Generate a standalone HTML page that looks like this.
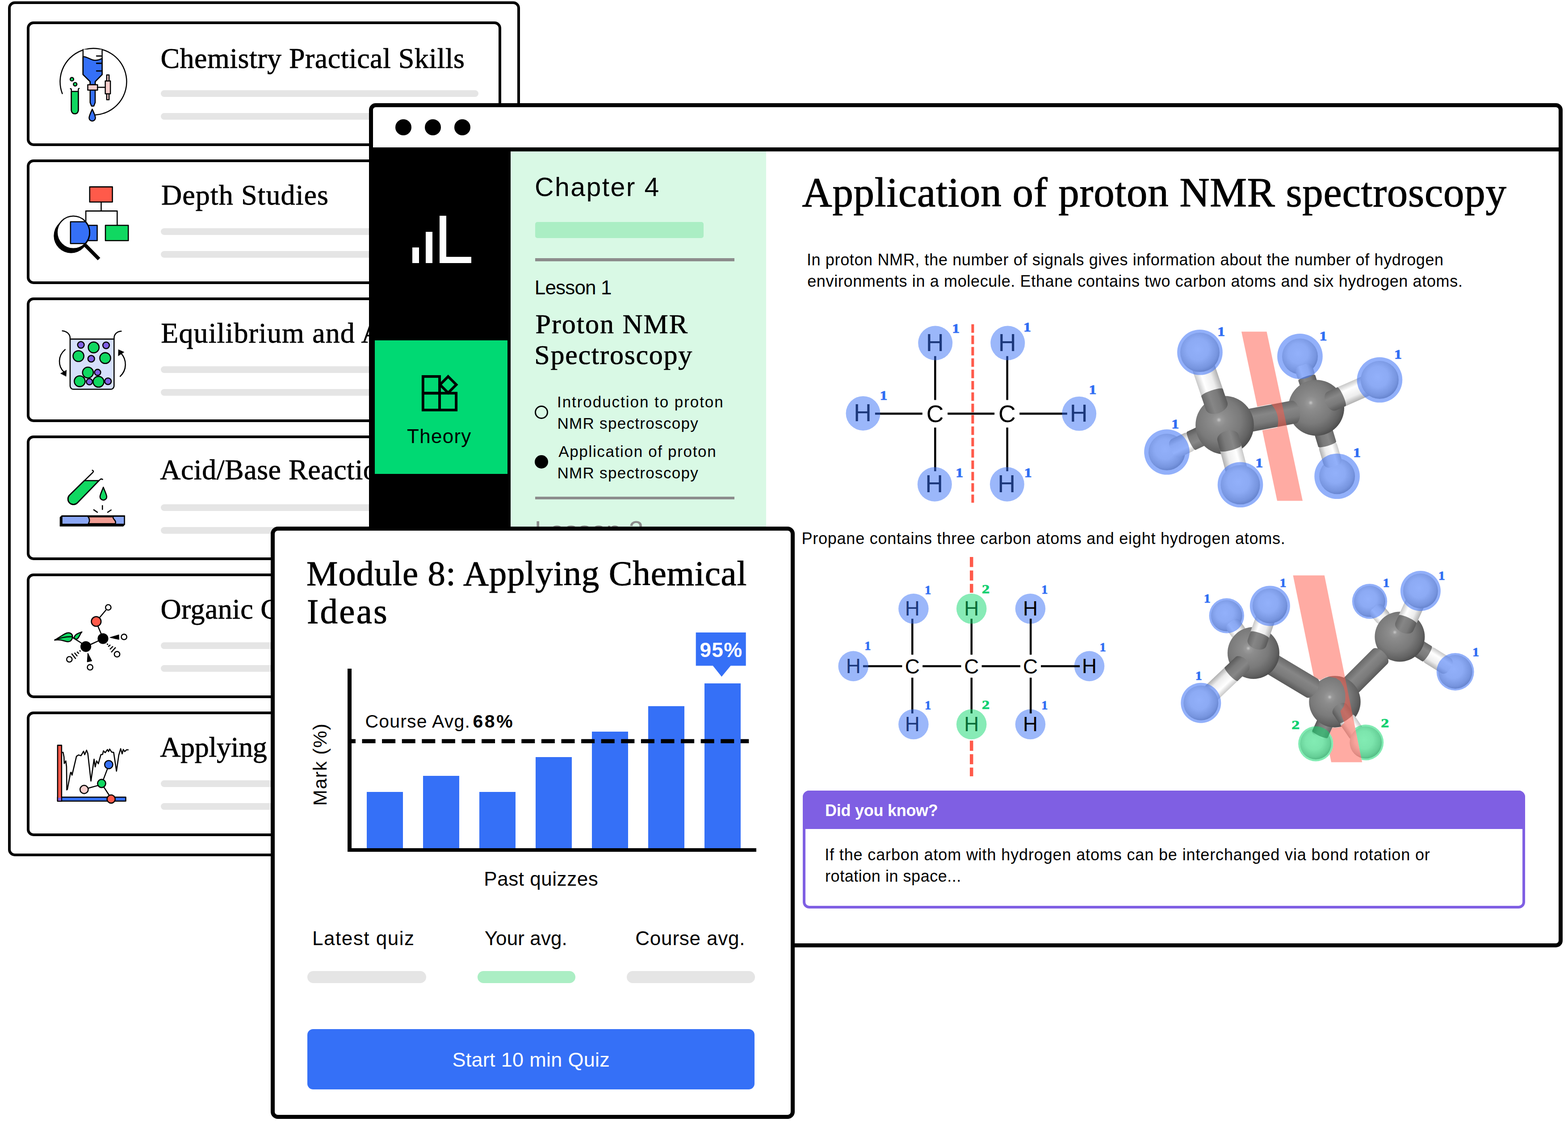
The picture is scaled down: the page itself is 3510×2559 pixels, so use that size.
<!DOCTYPE html>
<html lang="en"><head><meta charset="utf-8"><title>Chemistry modules</title>
<style>
*{box-sizing:border-box}
html,body{margin:0;padding:0;background:#fff}
body{width:3510px;height:2559px;position:relative;font-family:"Liberation Sans",sans-serif;color:#000}
.b,.t,.ic,.fr{position:absolute}
.t{white-space:nowrap;line-height:1;display:block}
.w{margin:0;padding:0;border:0;font:inherit;list-style:none;display:block}
.ss{font-family:"Liberation Sans",sans-serif}
.sf{font-family:"Liberation Serif",serif;-webkit-text-stroke:0.012em currentColor}
.fr{border:solid #000;background:#fff}
.lb{font-family:"Liberation Serif",serif;font-weight:700}
.at{font-family:"Liberation Sans",sans-serif}
svg{overflow:visible}
</style></head>
<body>
<section aria-label="Modules">
<div class="fr" style="left:18px;top:3px;width:1146px;height:1914px;border-width:6px;border-radius:15px"></div>
<div class="fr" style="left:60px;top:47.8px;width:1062px;height:279px;border-width:6px;border-radius:15px"></div>
<h3 class="w"><span class="t sf" style="left:359.4px;top:98.9px;font-size:64px;letter-spacing:0.49px;">Chemistry Practical Skills</span></h3>
<div class="b" style="left:360.0px;top:201.5px;width:711.0px;height:15.5px;background:#e5e5e5;border-radius:8px;"></div>
<div class="b" style="left:360.0px;top:252.7px;width:711.0px;height:15.5px;background:#e5e5e5;border-radius:8px;"></div>
<svg class="ic" style="left:0px;top:0px" width="400" height="290" viewBox="0 0 2266 1643" >
<g fill="none" stroke="#000" stroke-width="14" stroke-linecap="round" stroke-linejoin="round">
<path d="M790 1187 A422 422 0 1 1 1210 1457"/>
<path d="M1053 628 V945 L1143 1035 V1075 H1207 V1035 L1295 945 V628" fill="#fff"/>
<path d="M1053 718 C1110 718 1150 765 1205 765 C1245 765 1275 752 1295 742 V945 L1207 1035 V1075 H1143 V1035 L1053 945 Z" fill="#3570f7"/>
<path d="M1225 710 H1288 M1225 803 H1288 M1225 900 H1288" stroke-width="16"/>
<path d="M1143 1143 V1300 L1160 1345 H1190 L1207 1300 V1143 Z" fill="#3570f7"/>
<rect x="1113" y="1075" width="124" height="68" fill="#f7cfcd"/>
<path d="M1237 1107 H1335"/>
<rect x="1353" y="950" width="30" height="315" fill="#f7cfcd"/>
<rect x="1335" y="1027" width="65" height="163" fill="#f7cfcd"/>
<path d="M1170 1385 C1150 1430 1130 1470 1130 1495 A40 40 0 0 0 1210 1495 C1210 1470 1190 1430 1170 1385 Z" fill="#3570f7"/>
<path d="M905 1160 V1400 A44 44 0 0 0 993 1400 V1160 Z" fill="#10d861"/>
<path d="M893 1124 Q905 1124 905 1140 V1400 A44 44 0 0 0 993 1400 V1140 Q993 1124 1003 1122"/>
<circle cx="912" cy="1005" r="22" fill="#10d861"/>
<circle cx="953" cy="1068" r="22" fill="#10d861"/>
</g></svg>
<div class="fr" style="left:60px;top:356.8px;width:1062px;height:279px;border-width:6px;border-radius:15px"></div>
<h3 class="w"><span class="t sf" style="left:360.9px;top:404.9px;font-size:64px;letter-spacing:1.10px;">Depth Studies</span></h3>
<div class="b" style="left:360.0px;top:510.5px;width:711.0px;height:15.5px;background:#e5e5e5;border-radius:8px;"></div>
<div class="b" style="left:360.0px;top:561.7px;width:711.0px;height:15.5px;background:#e5e5e5;border-radius:8px;"></div>
<svg class="ic" style="left:100px;top:390px" width="220" height="210" viewBox="0 0 1731 1652" >
<g stroke="#000" stroke-width="20" stroke-linejoin="round" stroke-linecap="round" fill="none">
<path d="M995 500 V648 M725 830 V648 H1277 V895"/>
<rect x="793" y="223" width="400" height="267" fill="#ff5a4a"/>
<rect x="1070" y="900" width="403" height="270" fill="#10d861"/>
<rect x="700" y="900" width="225" height="270" fill="#3570f7"/>
<circle cx="465" cy="1085" r="305" fill="#000" stroke="none"/>
<circle cx="505" cy="1025" r="287" fill="#fff" stroke="none"/>
<path d="M455 838 H720 A287 287 0 0 1 720 1222 H455 Z" fill="#3570f7"/>
<circle cx="505" cy="1025" r="287"/>
<path d="M715 1250 L957 1495" stroke-width="62" stroke-linecap="butt"/>
</g></svg>
<div class="fr" style="left:60px;top:665.8px;width:1062px;height:279px;border-width:6px;border-radius:15px"></div>
<h3 class="w"><span class="t sf" style="left:360.2px;top:713.7px;font-size:64px;letter-spacing:1.14px;">Equilibrium and Acid Reactions</span></h3>
<div class="b" style="left:360.0px;top:819.5px;width:711.0px;height:15.5px;background:#e5e5e5;border-radius:8px;"></div>
<div class="b" style="left:360.0px;top:870.7px;width:711.0px;height:15.5px;background:#e5e5e5;border-radius:8px;"></div>
<svg class="ic" style="left:100px;top:700px" width="220" height="210" viewBox="0 0 1731 1652" >
<g stroke="#000" stroke-width="20" stroke-linejoin="round" stroke-linecap="round" fill="none">
<path d="M448 465 H1222 V1290 A60 60 0 0 1 1162 1350 H508 A60 60 0 0 1 448 1290 Z" fill="#d6e0fb"/>
<path d="M312 320 C390 325 448 380 448 450 V465 M1222 465 V450 C1222 385 1270 330 1348 326"/>
<circle cx="638" cy="567" r="58" fill="#7f5fe3"/><circle cx="863" cy="612" r="95" fill="#10d861"/><circle cx="1082" cy="575" r="58" fill="#7f5fe3"/><circle cx="595" cy="765" r="95" fill="#10d861"/><circle cx="820" cy="812" r="58" fill="#7f5fe3"/><circle cx="1066" cy="800" r="95" fill="#10d861"/><circle cx="932" cy="1052" r="54" fill="#7f5fe3"/><circle cx="788" cy="1217" r="54" fill="#7f5fe3"/><circle cx="617" cy="1208" r="95" fill="#10d861"/><circle cx="948" cy="1217" r="95" fill="#10d861"/><circle cx="762" cy="1055" r="95" fill="#10d861"/><circle cx="1115" cy="1208" r="58" fill="#7f5fe3"/>
<path d="M360 650 C230 760 230 940 340 1045"/>
<path d="M1330 1122 C1450 1010 1450 830 1345 715"/>
<path d="M280 1070 L385 1010 L378 1122 Z" fill="#000" stroke-width="4"/>
<path d="M1300 650 L1400 695 L1297 762 Z" fill="#000" stroke-width="4"/>
</g></svg>
<div class="fr" style="left:60px;top:974.8px;width:1062px;height:279px;border-width:6px;border-radius:15px"></div>
<h3 class="w"><span class="t sf" style="left:358.2px;top:1020.4px;font-size:64px;letter-spacing:0.53px;">Acid/Base Reactions</span></h3>
<div class="b" style="left:360.0px;top:1128.5px;width:711.0px;height:15.5px;background:#e5e5e5;border-radius:8px;"></div>
<div class="b" style="left:360.0px;top:1179.7px;width:711.0px;height:15.5px;background:#e5e5e5;border-radius:8px;"></div>
<svg class="ic" style="left:100px;top:1020px" width="220" height="210" viewBox="0 0 1731 1652" >
<g stroke="#000" stroke-width="20" stroke-linejoin="round" stroke-linecap="round" fill="none">
<path d="M699 440 H957 L572 836 A97 97 0 0 1 435 699 Z" fill="#10d861"/>
<path d="M840 258 Q870 272 850 295 L435 699 A97 97 0 0 0 572 836 L965 432 Q990 400 1020 420"/>
<path d="M1033 558 C1010 620 975 690 975 725 A59 59 0 0 0 1093 725 C1093 690 1058 620 1033 558 Z" fill="#10d861"/>
<path d="M1017 882 V948 M865 955 L928 998 M1170 958 L1110 998"/>
<path d="M270 1085 L300 1055 H1413 V1215 L1385 1245 H270 Z" fill="#000" stroke-width="6"/>
<rect x="313" y="1078" width="1082" height="122" fill="#8ba7f5" stroke="none"/>
<path d="M765 1078 Q810 1135 770 1200 H1245 Q1260 1160 1222 1125 Q1200 1100 1205 1078 Z" fill="#f29d93"/>
</g></svg>
<div class="fr" style="left:60px;top:1283.8px;width:1062px;height:279px;border-width:6px;border-radius:15px"></div>
<h3 class="w"><span class="t sf" style="left:359.5px;top:1332.2px;font-size:64px;letter-spacing:0.36px;">Organic Chemistry</span></h3>
<div class="b" style="left:360.0px;top:1437.5px;width:711.0px;height:15.5px;background:#e5e5e5;border-radius:8px;"></div>
<div class="b" style="left:360.0px;top:1488.7px;width:711.0px;height:15.5px;background:#e5e5e5;border-radius:8px;"></div>
<svg class="ic" style="left:100px;top:1330px" width="220" height="210" viewBox="0 0 1731 1652" >
<g stroke="#000" stroke-width="20" stroke-linejoin="round" stroke-linecap="round" fill="none">
<path d="M1078 283 L975 405 M940 570 L995 700 M815 885 L945 825 M500 770 L650 865"/>
<circle cx="1120" cy="235" r="48" fill="#fff"/><circle cx="1398" cy="755" r="48" fill="#fff"/><circle cx="1275" cy="1060" r="48" fill="#fff"/><circle cx="435" cy="1150" r="48" fill="#fff"/><circle cx="800" cy="1290" r="48" fill="#fff"/>
<circle cx="908" cy="483" r="85" fill="#ff5a4a"/>
<circle cx="725" cy="925" r="85" fill="#000"/>
<circle cx="1027" cy="785" r="85" fill="#000"/>
<path d="M1150 765 L1305 718 L1308 800 Z" fill="#000" stroke-width="10"/>
<path d="M760 1040 L750 1195 L830 1178 Z" fill="#000" stroke-width="10"/>
<path d="M1102 880 L1110 886 M1125 920 L1150 900 M1155 968 L1198 925 M1178 1020 L1245 945" />
<path d="M620 998 L626 1006 M575 1022 L598 1045 M530 1040 L570 1088 M480 1055 L543 1135"/>
<path d="M178 810 C300 740 360 680 420 682 C470 684 495 720 490 760 C485 810 450 840 410 840 C350 838 300 790 178 810 Z" fill="#10d861"/>
<path d="M178 810 C300 760 400 745 488 752"/>
<path d="M522 770 C520 720 580 690 655 668 C620 700 610 770 570 790 C545 795 525 790 522 770 Z" fill="#10d861"/>
</g></svg>
<div class="fr" style="left:60px;top:1592.8px;width:1062px;height:279px;border-width:6px;border-radius:15px"></div>
<h3 class="w"><span class="t sf" style="left:358.2px;top:1641.0px;font-size:64px;letter-spacing:-0.30px;">Applying Chemical Ideas</span></h3>
<div class="b" style="left:360.0px;top:1746.5px;width:711.0px;height:15.5px;background:#e5e5e5;border-radius:8px;"></div>
<div class="b" style="left:360.0px;top:1797.7px;width:711.0px;height:15.5px;background:#e5e5e5;border-radius:8px;"></div>
<svg class="ic" style="left:100px;top:1640px" width="220" height="210" viewBox="0 0 1731 1652" >
<g stroke="#000" stroke-width="20" stroke-linejoin="round" stroke-linecap="round" fill="none">
<path d="M308 350 L325 350 L340 430 L345 545 L372 500 L385 600 L390 1010 L400 1000 L455 710 L465 700 L482 750 L560 420 L595 395 L640 408 L685 330 L705 390 L738 312 L760 370 L815 855 L870 470 L890 605 L915 500 L945 550 L990 390 L1020 385 L1035 322 L1065 355 L1105 300 L1125 335 L1145 292 L1180 345 L1215 350 L1265 680 L1305 400 L1338 285 L1365 375 L1385 298 L1410 335 L1440 305 L1470 305"/>
<rect x="228" y="1138" width="1200" height="70" fill="#3570f7"/>
<rect x="228" y="225" width="70" height="985" fill="#ff5a4a"/>
<rect x="238" y="1148" width="52" height="52" fill="#7f5fe3" stroke="none"/>
<path d="M1105 640 L1035 825 M770 980 L930 935 M1045 965 L1130 1095"/>
<circle cx="1128" cy="565" r="72" fill="#3570f7"/>
<circle cx="1003" cy="897" r="72" fill="#10d861"/>
<circle cx="695" cy="1003" r="72" fill="#f7cfcd"/>
<circle cx="1170" cy="1172" r="72" fill="#ff5a4a"/>
</g></svg>
</section>
<section aria-label="Lesson">
<div class="fr" style="left:826px;top:231px;width:2672px;height:1890px;border-width:9px;border-radius:15px"></div>
<div class="b" style="left:835.0px;top:330.0px;width:2654.0px;height:9.0px;background:#000;"></div>
<div class="b" style="left:884.8px;top:266.7px;width:36.0px;height:36.0px;background:#000;border-radius:18px;"></div>
<div class="b" style="left:951.0px;top:266.7px;width:36.0px;height:36.0px;background:#000;border-radius:18px;"></div>
<div class="b" style="left:1017.0px;top:266.7px;width:36.0px;height:36.0px;background:#000;border-radius:18px;"></div>
<div class="b" style="left:835.0px;top:339.0px;width:308.0px;height:1773.0px;background:#000;"></div>
<div class="b" style="left:923.0px;top:553.8px;width:14.8px;height:35.5px;background:#fff;"></div>
<div class="b" style="left:953.0px;top:518.9px;width:15.0px;height:70.4px;background:#fff;"></div>
<div class="b" style="left:983.8px;top:483.4px;width:14.8px;height:105.9px;background:#fff;"></div>
<div class="b" style="left:983.8px;top:575.0px;width:71.0px;height:14.3px;background:#fff;"></div>
<div class="b" style="left:839.0px;top:762.0px;width:297.0px;height:299.3px;background:#00d973;"></div>
<svg class="ic" style="left:880px;top:800px" width="220" height="220" viewBox="0 0 1652 1652" >
<g stroke="#000" stroke-width="44" fill="none" stroke-linejoin="miter">
<rect x="502" y="322" width="279" height="281"/>
<rect x="502" y="603" width="558" height="283"/>
<path d="M781 603 V886"/>
<path d="M925 323 L1062 460 L925 597 L788 460 Z"/>
</g></svg>
<span class="t ss" style="left:911.1px;top:955.2px;font-size:44px;letter-spacing:1.25px;">Theory</span>
<div class="b" style="left:1143.0px;top:339.0px;width:571.7px;height:1773.0px;background:#d9f9e5;"></div>
<h2 class="w">
<span class="t ss" style="left:1197.0px;top:390.0px;font-size:59px;letter-spacing:2.41px;">Chapter 4</span>
</h2>
<div class="b" style="left:1197.7px;top:497.0px;width:377.7px;height:35.8px;background:#abeec4;border-radius:5px;"></div>
<div class="b" style="left:1197.7px;top:578.0px;width:446.3px;height:6.5px;background:#8c8c8c;"></div>
<span class="t ss" style="left:1196.8px;top:621.9px;font-size:44px;letter-spacing:-0.83px;">Lesson 1</span>
<h3 class="w">
<span class="t sf" style="left:1198.4px;top:694.2px;font-size:62px;letter-spacing:2.07px;">Proton NMR</span>
<span class="t sf" style="left:1196.3px;top:763.2px;font-size:62px;letter-spacing:1.71px;">Spectroscopy</span>
</h3>
<div class="b" style="left:1197.4px;top:908.3px;width:30px;height:30px;border-radius:50%;border:3px solid #000"></div>
<p class="w">
<span class="t ss" style="left:1247.0px;top:881.6px;font-size:35px;letter-spacing:1.95px;">Introduction to proton</span>
<span class="t ss" style="left:1247.4px;top:929.7px;font-size:35px;letter-spacing:1.32px;">NMR spectroscopy</span>
</p>
<div class="b" style="left:1197.4px;top:1019.1px;width:30.0px;height:30.0px;background:#000;border-radius:15px;"></div>
<p class="w">
<span class="t ss" style="left:1250.2px;top:992.6px;font-size:35px;letter-spacing:1.67px;">Application of proton</span>
<span class="t ss" style="left:1247.4px;top:1040.5px;font-size:35px;letter-spacing:1.32px;">NMR spectroscopy</span>
</p>
<div class="b" style="left:1197.7px;top:1112.2px;width:446.3px;height:6.3px;background:#8c8c8c;"></div>
<span class="t ss" style="left:1196.6px;top:1157.8px;font-size:60px;letter-spacing:0.07px;color:#8c8c8c;">Lesson 2</span>
<h1 class="w">
<span class="t sf" style="left:1795.5px;top:384.1px;font-size:93px;letter-spacing:0.72px;">Application of proton NMR spectroscopy</span>
</h1>
<p class="w">
<span class="t ss" style="left:1805.9px;top:564.3px;font-size:36px;letter-spacing:0.64px;">In proton NMR, the number of signals gives information about the number of hydrogen</span>
<span class="t ss" style="left:1807.2px;top:611.5px;font-size:36px;letter-spacing:0.65px;">environments in a molecule. Ethane contains two carbon atoms and six hydrogen atoms.</span>
</p>
<svg class="ic" style="left:1800px;top:680px" width="800" height="500" viewBox="0 0 2266 1416"><g stroke="#000" stroke-width="13" fill="none"><path d="M831 332 V610 M831 785 V1062 M1288 332 V610 M1288 785 V1062 M450 697 H750 M910 697 H1207 M1366 697 H1668"/></g><path d="M1069 130 V1262" stroke="#ff5a4a" stroke-width="17" stroke-dasharray="54 18" fill="none"/><text x="830" y="751" font-size="152" text-anchor="middle" class="at">C</text><text x="1287" y="751" font-size="152" text-anchor="middle" class="at">C</text><text x="829" y="299" font-size="157" text-anchor="middle" class="at">H</text><text x="1288" y="299" font-size="157" text-anchor="middle" class="at">H</text><text x="371" y="745" font-size="157" text-anchor="middle" class="at">H</text><text x="1741" y="747" font-size="157" text-anchor="middle" class="at">H</text><text x="825" y="1195" font-size="157" text-anchor="middle" class="at">H</text><text x="1284" y="1195" font-size="157" text-anchor="middle" class="at">H</text><circle cx="832" cy="249" r="109" fill="rgba(56,112,246,0.5)"/><circle cx="1291" cy="249" r="109" fill="rgba(56,112,246,0.5)"/><circle cx="374" cy="695" r="109" fill="rgba(56,112,246,0.5)"/><circle cx="1744" cy="697" r="109" fill="rgba(56,112,246,0.5)"/><circle cx="828" cy="1145" r="109" fill="rgba(56,112,246,0.5)"/><circle cx="1287" cy="1145" r="109" fill="rgba(56,112,246,0.5)"/><text x="962.0" y="183.1" font-size="85" fill="#2f6df3" stroke="#2f6df3" stroke-width="2.55" text-anchor="middle" textLength="48.0" lengthAdjust="spacingAndGlyphs" class="lb">1</text><text x="1415.0" y="176.1" font-size="85" fill="#2f6df3" stroke="#2f6df3" stroke-width="2.55" text-anchor="middle" textLength="48.0" lengthAdjust="spacingAndGlyphs" class="lb">1</text><text x="504.0" y="610.0" font-size="85" fill="#2f6df3" stroke="#2f6df3" stroke-width="2.55" text-anchor="middle" textLength="48.0" lengthAdjust="spacingAndGlyphs" class="lb">1</text><text x="1830.0" y="573.0" font-size="85" fill="#2f6df3" stroke="#2f6df3" stroke-width="2.55" text-anchor="middle" textLength="48.0" lengthAdjust="spacingAndGlyphs" class="lb">1</text><text x="985.0" y="1100.0" font-size="85" fill="#2f6df3" stroke="#2f6df3" stroke-width="2.55" text-anchor="middle" textLength="48.0" lengthAdjust="spacingAndGlyphs" class="lb">1</text><text x="1420.0" y="1100.0" font-size="85" fill="#2f6df3" stroke="#2f6df3" stroke-width="2.55" text-anchor="middle" textLength="48.0" lengthAdjust="spacingAndGlyphs" class="lb">1</text></svg>
<svg class="ic" style="left:2500px;top:680px" width="860" height="500" viewBox="2500 680 860 500">
<defs>
<radialGradient id="gC" cx="0.42" cy="0.42" r="0.62" fx="0.40" fy="0.41">
<stop offset="0" stop-color="#c8c8c8"/><stop offset="0.07" stop-color="#999"/><stop offset="0.2" stop-color="#8c8c8c"/><stop offset="0.6" stop-color="#7a7a7a"/><stop offset="0.85" stop-color="#626262"/><stop offset="1" stop-color="#4a4a4a"/>
</radialGradient>
<radialGradient id="gH" cx="0.45" cy="0.42" r="0.62">
<stop offset="0" stop-color="#ffffff"/><stop offset="0.45" stop-color="#f2f2f2"/><stop offset="0.8" stop-color="#c4c4c4"/><stop offset="1" stop-color="#909090"/>
</radialGradient>
<linearGradient id="gSg" x1="0" y1="0" x2="0" y2="1">
<stop offset="0" stop-color="#686868"/><stop offset="0.35" stop-color="#868686"/><stop offset="0.7" stop-color="#7a7a7a"/><stop offset="1" stop-color="#5a5a5a"/>
</linearGradient>
<linearGradient id="gSw" x1="0" y1="0" x2="0" y2="1">
<stop offset="0" stop-color="#c8c8c8"/><stop offset="0.3" stop-color="#ffffff"/><stop offset="0.7" stop-color="#ededed"/><stop offset="1" stop-color="#b0b0b0"/>
</linearGradient>
</defs><circle cx="2910.0" cy="797.7" r="40.0" fill="url(#gH)"/><circle cx="2612.0" cy="1012.0" r="41.0" fill="url(#gH)"/><circle cx="2993.1" cy="1066.3" r="40.0" fill="url(#gH)"/><g transform="translate(2741.5 951.8) rotate(154.81)"><rect x="78.0" y="-22.5" width="54.1" height="45.0" rx="13.5" fill="url(#gSw)"/><path d="M0.0 -22.5 H82.5 A4.5 22.5 0 0 1 82.5 22.5 H0.0 Z" fill="url(#gSg)"/></g><g transform="translate(2946.5 913.0) rotate(-107.63)"><rect x="66.0" y="-20.0" width="34.7" height="40.0" rx="12.0" fill="url(#gSw)"/><path d="M0.0 -20.0 H70.0 A4.0 20.0 0 0 1 70.0 20.0 H0.0 Z" fill="url(#gSg)"/></g><g transform="translate(2946.5 913.0) rotate(73.22)"><rect x="80.6" y="-21.0" width="56.2" height="42.0" rx="12.6" fill="url(#gSw)"/><path d="M0.0 -21.0 H84.8 A4.2 21.0 0 0 1 84.8 21.0 H0.0 Z" fill="url(#gSg)"/></g><circle cx="2946.5" cy="913.0" r="62.6" fill="url(#gC)"/><g transform="translate(2741.5 951.8) rotate(-10.72)"><path d="M0.0 -26.0 H157.1 A13.5 26.0 0 0 1 157.1 26.0 H0.0 Z" fill="url(#gSg)"/></g><circle cx="2741.5" cy="951.8" r="65.3" fill="url(#gC)"/><g transform="translate(2738.0 951.8) rotate(-108.80)"><rect x="71.8" y="-25.5" width="100.4" height="51.0" fill="url(#gSw)"/><path d="M45.0 -25.5 H76.9 A5.1 25.5 0 0 1 76.9 25.5 H45.0 A16.3 25.5 0 0 1 45.0 -25.5 Z" fill="url(#gSg)"/></g><g transform="translate(2741.5 951.8) rotate(75.31)"><rect x="48.2" y="-24.5" width="89.8" height="49.0" fill="url(#gSw)"/><path d="M29.0 -24.5 H53.1 A4.9 24.5 0 0 1 53.1 24.5 H29.0 A15.7 24.5 0 0 1 29.0 -24.5 Z" fill="url(#gSg)"/></g><g transform="translate(2946.5 913.0) rotate(-23.77)"><rect x="56.8" y="-23.0" width="98.3" height="46.0" fill="url(#gSw)"/><path d="M38.0 -23.0 H61.4 A4.6 23.0 0 0 1 61.4 23.0 H38.0 A14.7 23.0 0 0 1 38.0 -23.0 Z" fill="url(#gSg)"/></g><circle cx="2686.0" cy="788.8" r="44.0" fill="url(#gH)"/><circle cx="2776.5" cy="1085.3" r="44.0" fill="url(#gH)"/><circle cx="3088.4" cy="850.5" r="42.5" fill="url(#gH)"/><circle cx="2686.0" cy="788.8" r="50.8" fill="rgba(56,112,246,0.55)"/><circle cx="2910.0" cy="797.7" r="50.8" fill="rgba(56,112,246,0.55)"/><circle cx="3088.4" cy="850.5" r="50.8" fill="rgba(56,112,246,0.55)"/><circle cx="2612.0" cy="1012.0" r="50.8" fill="rgba(56,112,246,0.55)"/><circle cx="2776.5" cy="1085.3" r="50.8" fill="rgba(56,112,246,0.55)"/><circle cx="2993.1" cy="1066.3" r="50.8" fill="rgba(56,112,246,0.55)"/><defs><mask id="mBandE" maskUnits="userSpaceOnUse" x="2500" y="680" width="860" height="500"><rect x="2500" y="680" width="860" height="500" fill="#fff"/><g transform="translate(2741.5 951.8) rotate(-10.72)"><path d="M40 -27 H111 Q127 0 115 27 H40 Z" fill="#000"/></g></mask></defs><polygon points="2779,742.5 2835.5,742.5 2916,1121.3 2859,1121.3" fill="rgba(255,88,72,0.5)" mask="url(#mBandE)"/><text x="2733.8" y="751.7" font-size="30" fill="#2f6df3" stroke="#2f6df3" stroke-width="0.90" text-anchor="middle" textLength="17.0" lengthAdjust="spacingAndGlyphs" class="lb">1</text><text x="2630.8" y="958.9" font-size="30" fill="#2f6df3" stroke="#2f6df3" stroke-width="0.90" text-anchor="middle" textLength="17.0" lengthAdjust="spacingAndGlyphs" class="lb">1</text><text x="2818.8" y="1046.2" font-size="30" fill="#2f6df3" stroke="#2f6df3" stroke-width="0.90" text-anchor="middle" textLength="17.0" lengthAdjust="spacingAndGlyphs" class="lb">1</text><text x="2962.0" y="761.9" font-size="30" fill="#2f6df3" stroke="#2f6df3" stroke-width="0.90" text-anchor="middle" textLength="17.0" lengthAdjust="spacingAndGlyphs" class="lb">1</text><text x="3129.5" y="803.1" font-size="30" fill="#2f6df3" stroke="#2f6df3" stroke-width="0.90" text-anchor="middle" textLength="17.0" lengthAdjust="spacingAndGlyphs" class="lb">1</text><text x="3037.6" y="1022.8" font-size="30" fill="#2f6df3" stroke="#2f6df3" stroke-width="0.90" text-anchor="middle" textLength="17.0" lengthAdjust="spacingAndGlyphs" class="lb">1</text></svg>
<p class="w">
<span class="t ss" style="left:1794.5px;top:1187.5px;font-size:36px;letter-spacing:0.76px;">Propane contains three carbon atoms and eight hydrogen atoms.</span>
</p>
<svg class="ic" style="left:1780px;top:1160px" width="800" height="620" viewBox="0 0 2132 1652"><circle cx="1403" cy="540" r="90" fill="rgba(56,112,246,0.5)"/><circle cx="1755" cy="883" r="90" fill="rgba(56,112,246,0.5)"/><circle cx="1403" cy="1230" r="90" fill="rgba(56,112,246,0.5)"/><g stroke="#000" stroke-width="12" fill="none"><path d="M699 600 V815 M699 952 V1165 M1052 600 V815 M1052 952 V1165 M1405 600 V815 M1405 952 V1165 M405 883 H638 M760 883 H990 M1113 883 H1343 M1466 883 H1698"/></g><path d="M1052 232 V445 M1052 1328 V1540" stroke="#ff5a4a" stroke-width="20" stroke-dasharray="60 20" fill="none"/><text x="699" y="927" font-size="122" text-anchor="middle" class="at">C</text><text x="1052" y="927" font-size="122" text-anchor="middle" class="at">C</text><text x="1403" y="927" font-size="122" text-anchor="middle" class="at">C</text><text x="699" y="582" font-size="122" text-anchor="middle" class="at">H</text><text x="1052" y="582" font-size="122" text-anchor="middle" class="at">H</text><text x="347" y="925" font-size="122" text-anchor="middle" class="at">H</text><text x="699" y="1272" font-size="122" text-anchor="middle" class="at">H</text><text x="1052" y="1272" font-size="122" text-anchor="middle" class="at">H</text><text x="1403" y="582" font-size="122" text-anchor="middle" class="at">H</text><text x="1755" y="925" font-size="122" text-anchor="middle" class="at">H</text><text x="1403" y="1272" font-size="122" text-anchor="middle" class="at">H</text><circle cx="706" cy="540" r="90" fill="rgba(56,112,246,0.5)"/><circle cx="1052" cy="540" r="90" fill="rgba(16,216,110,0.5)"/><circle cx="347" cy="883" r="90" fill="rgba(56,112,246,0.5)"/><circle cx="706" cy="1230" r="90" fill="rgba(56,112,246,0.5)"/><circle cx="1052" cy="1230" r="90" fill="rgba(16,216,110,0.5)"/><text x="792.0" y="453.1" font-size="70" fill="#2f6df3" stroke="#2f6df3" stroke-width="2.10" text-anchor="middle" textLength="38.0" lengthAdjust="spacingAndGlyphs" class="lb">1</text><text x="1488.0" y="450.1" font-size="70" fill="#2f6df3" stroke="#2f6df3" stroke-width="2.10" text-anchor="middle" textLength="38.0" lengthAdjust="spacingAndGlyphs" class="lb">1</text><text x="433.0" y="785.1" font-size="70" fill="#2f6df3" stroke="#2f6df3" stroke-width="2.10" text-anchor="middle" textLength="38.0" lengthAdjust="spacingAndGlyphs" class="lb">1</text><text x="1835.0" y="795.1" font-size="70" fill="#2f6df3" stroke="#2f6df3" stroke-width="2.10" text-anchor="middle" textLength="38.0" lengthAdjust="spacingAndGlyphs" class="lb">1</text><text x="792.0" y="1141.1" font-size="70" fill="#2f6df3" stroke="#2f6df3" stroke-width="2.10" text-anchor="middle" textLength="38.0" lengthAdjust="spacingAndGlyphs" class="lb">1</text><text x="1488.0" y="1141.1" font-size="70" fill="#2f6df3" stroke="#2f6df3" stroke-width="2.10" text-anchor="middle" textLength="38.0" lengthAdjust="spacingAndGlyphs" class="lb">1</text><text x="1137.0" y="448.1" font-size="70" fill="#10d070" stroke="#10d070" stroke-width="2.10" text-anchor="middle" textLength="46.0" lengthAdjust="spacingAndGlyphs" class="lb">2</text><text x="1137.0" y="1138.1" font-size="70" fill="#10d070" stroke="#10d070" stroke-width="2.10" text-anchor="middle" textLength="46.0" lengthAdjust="spacingAndGlyphs" class="lb">2</text></svg>
<svg class="ic" style="left:2560px;top:1220px" width="840" height="540" viewBox="2560 1220 840 540"><defs><clipPath id="cC2"><circle cx="2988" cy="1571" r="58.2"/></clipPath><mask id="mBand" maskUnits="userSpaceOnUse" x="2560" y="1220" width="840" height="540"><rect x="2560" y="1220" width="840" height="540" fill="#fff"/><g clip-path="url(#cC2)"><polygon points="2974.4,1514.9 2990.4,1518.1 3000.6,1525 3007.9,1538.1 3011.5,1552.6 3011.5,1567.2 3007.9,1581.7 3000.6,1591.9 3003.5,1603.5 3009.3,1618 2995,1632 2920,1632 2920,1505" fill="#000"/></g><g transform="translate(2805.9 1461.9) rotate(30.93)"><rect x="60" y="-24.5" width="112" height="49" fill="#000"/></g><circle cx="2945.3" cy="1665.2" r="39.2" fill="#000"/><g transform="translate(2988 1571) rotate(114.50)"><rect x="0" y="-19" width="90" height="38" rx="10" fill="#000"/></g></mask><clipPath id="cG2"><polygon points="2964.8,1288.2 3400,1288.2 3400,1760 3060,1760"/></clipPath></defs><circle cx="2745.8" cy="1378.5" r="35.0" fill="url(#gH)"/><circle cx="3066.0" cy="1346.3" r="35.0" fill="url(#gH)"/><circle cx="2945.3" cy="1665.2" r="35.0" fill="url(#gH)"/><circle cx="3257.7" cy="1504.0" r="38.0" fill="url(#gH)"/><g transform="translate(2805.9 1461.9) rotate(-126.06)"><rect x="47.8" y="-18.0" width="38.7" height="36.0" rx="10.8" fill="url(#gSw)"/><path d="M0.0 -18.0 H51.4 A3.6 18.0 0 0 1 51.4 18.0 H0.0 Z" fill="url(#gSg)"/></g><g transform="translate(3133.4 1425.6) rotate(-131.19)"><rect x="47.8" y="-18.0" width="39.4" height="36.0" rx="10.8" fill="url(#gSw)"/><path d="M0.0 -18.0 H51.4 A3.6 18.0 0 0 1 51.4 18.0 H0.0 Z" fill="url(#gSg)"/></g><g transform="translate(2988.0 1571.0) rotate(114.50)"><rect x="76.4" y="-19.0" width="10.4" height="38.0" rx="11.4" fill="url(#gSw)"/><path d="M0.0 -19.0 H80.2 A3.8 19.0 0 0 1 80.2 19.0 H0.0 Z" fill="url(#gSg)"/></g><g transform="translate(3133.4 1425.6) rotate(32.01)"><rect x="68.0" y="-20.0" width="64.8" height="40.0" rx="12.0" fill="url(#gSw)"/><path d="M0.0 -20.0 H72.0 A4.0 20.0 0 0 1 72.0 20.0 H0.0 Z" fill="url(#gSg)"/></g><circle cx="3133.4" cy="1425.6" r="56.0" fill="url(#gC)"/><g transform="translate(2988.0 1571.0) rotate(-45.00)"><path d="M0.0 -23.5 H143.4 A12.2 23.5 0 0 1 143.4 23.5 H0.0 Z" fill="url(#gSg)"/></g><circle cx="2988.0" cy="1571.0" r="57.7" fill="url(#gC)"/><g transform="translate(2805.9 1461.9) rotate(30.93)"><path d="M0.0 -24.5 H152.5 A12.7 24.5 0 0 1 152.5 24.5 H0.0 Z" fill="url(#gSg)"/></g><circle cx="2805.9" cy="1461.9" r="58.0" fill="url(#gC)"/><g transform="translate(2805.9 1461.9) rotate(-70.72)"><rect x="38.2" y="-22.0" width="73.6" height="44.0" fill="url(#gSw)"/><path d="M24.0 -22.0 H42.6 A4.4 22.0 0 0 1 42.6 22.0 H24.0 A14.1 22.0 0 0 1 24.0 -22.0 Z" fill="url(#gSg)"/></g><g transform="translate(2805.9 1461.9) rotate(136.45)"><rect x="64.6" y="-21.0" width="97.7" height="42.0" fill="url(#gSw)"/><path d="M36.0 -21.0 H68.8 A4.2 21.0 0 0 1 68.8 21.0 H36.0 A13.4 21.0 0 0 1 36.0 -21.0 Z" fill="url(#gSg)"/></g><g transform="translate(3133.4 1425.6) rotate(-65.62)"><rect x="38.2" y="-22.0" width="74.4" height="44.0" fill="url(#gSw)"/><path d="M25.0 -22.0 H42.6 A4.4 22.0 0 0 1 42.6 22.0 H25.0 A14.1 22.0 0 0 1 25.0 -22.0 Z" fill="url(#gSg)"/></g><g transform="translate(2988.0 1571.0) rotate(55.65)"><rect x="41.4" y="-19.0" width="54.3" height="38.0" rx="11.4" fill="url(#gSw)"/><path d="M21.0 -19.0 H45.2 A3.8 19.0 0 0 1 45.2 19.0 H21.0 A12.2 19.0 0 0 1 21.0 -19.0 Z" fill="url(#gSg)"/></g><circle cx="2842.8" cy="1356.4" r="39.0" fill="url(#gH)"/><circle cx="2688.3" cy="1573.7" r="39.0" fill="url(#gH)"/><circle cx="3179.9" cy="1323.0" r="39.0" fill="url(#gH)"/><circle cx="3057.3" cy="1662.3" r="36.0" fill="url(#gH)"/><circle cx="2745.8" cy="1378.5" r="39.2" fill="rgba(56,112,246,0.55)"/><circle cx="2842.8" cy="1356.4" r="45.0" fill="rgba(56,112,246,0.55)"/><circle cx="2688.3" cy="1573.7" r="45.0" fill="rgba(56,112,246,0.55)"/><circle cx="3066.0" cy="1346.3" r="39.2" fill="rgba(56,112,246,0.55)"/><circle cx="3179.9" cy="1323.0" r="45.0" fill="rgba(56,112,246,0.55)"/><circle cx="3257.7" cy="1504.0" r="42.0" fill="rgba(56,112,246,0.55)"/><circle cx="2945.3" cy="1665.2" r="39.2" fill="rgba(16,216,110,0.52)"/><polygon points="2894.5,1288.2 2964.8,1288.2 3049.2,1706.5 2980,1706.5" fill="rgba(255,88,72,0.5)" mask="url(#mBand)"/><circle cx="3057.3" cy="1662.3" r="40.0" fill="rgba(16,216,110,0.52)" clip-path="url(#cG2)"/><text x="2702.2" y="1348.8" font-size="27" fill="#2f6df3" stroke="#2f6df3" stroke-width="0.81" text-anchor="middle" textLength="15.0" lengthAdjust="spacingAndGlyphs" class="lb">1</text><text x="2871.9" y="1313.9" font-size="27" fill="#2f6df3" stroke="#2f6df3" stroke-width="0.81" text-anchor="middle" textLength="15.0" lengthAdjust="spacingAndGlyphs" class="lb">1</text><text x="2683.3" y="1522.2" font-size="27" fill="#2f6df3" stroke="#2f6df3" stroke-width="0.81" text-anchor="middle" textLength="15.0" lengthAdjust="spacingAndGlyphs" class="lb">1</text><text x="3102.9" y="1313.9" font-size="27" fill="#2f6df3" stroke="#2f6df3" stroke-width="0.81" text-anchor="middle" textLength="15.0" lengthAdjust="spacingAndGlyphs" class="lb">1</text><text x="3227.2" y="1297.9" font-size="27" fill="#2f6df3" stroke="#2f6df3" stroke-width="0.81" text-anchor="middle" textLength="15.0" lengthAdjust="spacingAndGlyphs" class="lb">1</text><text x="3303.4" y="1469.3" font-size="27" fill="#2f6df3" stroke="#2f6df3" stroke-width="0.81" text-anchor="middle" textLength="15.0" lengthAdjust="spacingAndGlyphs" class="lb">1</text><text x="2900.3" y="1632.0" font-size="27" fill="#10d070" stroke="#10d070" stroke-width="0.81" text-anchor="middle" textLength="18.0" lengthAdjust="spacingAndGlyphs" class="lb">2</text><text x="3100.3" y="1628.2" font-size="27" fill="#10d070" stroke="#10d070" stroke-width="0.81" text-anchor="middle" textLength="18.0" lengthAdjust="spacingAndGlyphs" class="lb">2</text></svg>
<div class="b" style="left:1797px;top:1769.9px;width:1617px;height:264px;border-radius:14.5px;border:6px solid #7f5fe3;background:#fff"></div>
<div class="b" style="left:1797.0px;top:1769.9px;width:1617.0px;height:86.6px;background:#7f5fe3;border-radius:14.5px 14.5px 0 0;"></div>
<span class="t ss" style="left:1847.1px;top:1796.9px;font-size:36px;letter-spacing:-0.27px;color:#fff;font-weight:700;">Did you know?</span>
<p class="w">
<span class="t ss" style="left:1846.2px;top:1896.2px;font-size:36px;letter-spacing:0.87px;">If the carbon atom with hydrogen atoms can be interchanged via bond rotation or</span>
<span class="t ss" style="left:1847.1px;top:1943.8px;font-size:36px;letter-spacing:0.53px;">rotation in space...</span>
</p>
</section>
<section aria-label="Module 8">
<div class="fr" style="left:606px;top:1178.7px;width:1173px;height:1326.3px;border-width:9.2px;border-radius:16px"></div>
<h2 class="w">
<span class="t sf" style="left:686.1px;top:1244.2px;font-size:79px;letter-spacing:0.85px;">Module 8: Applying Chemical</span>
<span class="t sf" style="left:687.0px;top:1328.8px;font-size:79px;letter-spacing:3.26px;">Ideas</span>
</h2>
<div class="b" style="left:821.0px;top:1773.1px;width:80.8px;height:126.9px;background:#3570f7;"></div>
<div class="b" style="left:947.0px;top:1737.1px;width:80.8px;height:162.9px;background:#3570f7;"></div>
<div class="b" style="left:1073.0px;top:1773.1px;width:80.8px;height:126.9px;background:#3570f7;"></div>
<div class="b" style="left:1199.0px;top:1695.3px;width:80.8px;height:204.7px;background:#3570f7;"></div>
<div class="b" style="left:1325.0px;top:1638.3px;width:80.8px;height:261.7px;background:#3570f7;"></div>
<div class="b" style="left:1451.0px;top:1581.1px;width:80.8px;height:318.9px;background:#3570f7;"></div>
<div class="b" style="left:1577.0px;top:1530.4px;width:80.8px;height:369.6px;background:#3570f7;"></div>
<div class="b" style="left:778.4px;top:1496.5px;width:8.2px;height:410.4px;background:#000;"></div>
<div class="b" style="left:778.4px;top:1898.9px;width:914.8px;height:8.0px;background:#000;"></div>
<svg class="ic" style="left:0;top:0" width="3510" height="2559" viewBox="0 0 3510 2559"><path d="M780 1659.4 H1676.3" stroke="#000" stroke-width="9.3" stroke-dasharray="30 14.6" stroke-dashoffset="14.1" fill="none"/><path d="M1557.7 1416 H1669.7 V1490.6 H1635.6 L1615.4 1515 L1595.8 1490.6 H1557.7 Z" fill="#3570f7"/></svg>
<span class="t ss" style="left:1566.4px;top:1431.6px;font-size:46px;letter-spacing:1.38px;color:#fff;font-weight:700;">95%</span>
<p class="w">
<span class="t ss" style="left:817.4px;top:1594.7px;font-size:41px;letter-spacing:1.18px;">Course Avg.</span>
<span class="t ss" style="left:1058.4px;top:1594.7px;font-size:41px;letter-spacing:3.68px;font-weight:700;">68%</span>
</p>
<span class="t ss" style="left:730.5px;top:1804.4px;font-size:43px;letter-spacing:1.34px;transform-origin:0 0;transform:rotate(-90deg) translate(0,-36.4px)">Mark (%)</span>
<span class="t ss" style="left:1083.3px;top:1945.6px;font-size:44px;letter-spacing:0.54px;">Past quizzes</span>
<span class="t ss" style="left:698.9px;top:2078.7px;font-size:44px;letter-spacing:1.54px;">Latest quiz</span>
<span class="t ss" style="left:1084.7px;top:2078.7px;font-size:44px;letter-spacing:0.10px;">Your avg.</span>
<span class="t ss" style="left:1422.3px;top:2078.7px;font-size:44px;letter-spacing:0.79px;">Course avg.</span>
<div class="b" style="left:687.8px;top:2174.2px;width:266.6px;height:26.5px;background:#e5e5e5;border-radius:13.3px;"></div>
<div class="b" style="left:1069.1px;top:2174.2px;width:218.5px;height:26.5px;background:#abeec4;border-radius:13.3px;"></div>
<div class="b" style="left:1402.6px;top:2174.2px;width:287.8px;height:26.5px;background:#e5e5e5;border-radius:13.3px;"></div>
<div class="b" style="left:688.0px;top:2303.9px;width:1001.3px;height:134.8px;background:#3570f7;border-radius:13px;"></div>
<span class="t ss" style="left:1012.4px;top:2350.3px;font-size:45px;letter-spacing:0.30px;color:#fff;">Start 10 min Quiz</span>
</section>
</body></html>
